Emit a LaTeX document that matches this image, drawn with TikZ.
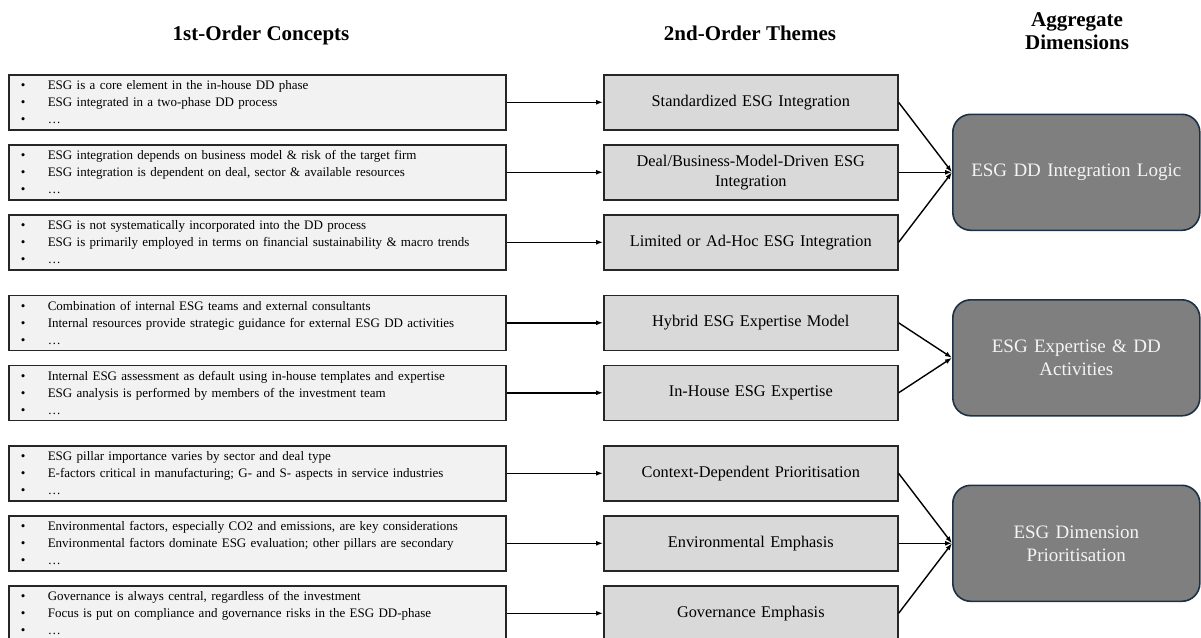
\documentclass[tikz,border=0pt]{standalone}
\usepackage{fontspec}
\setmainfont{Liberation Serif}
\usetikzlibrary{arrows.meta}

\definecolor{conceptfill}{HTML}{F2F2F2}
\definecolor{themefill}{HTML}{D9D9D9}
\definecolor{dimfill}{HTML}{7F7F7F}
\definecolor{dimedge}{HTML}{1C3144}
\definecolor{boxedge}{HTML}{262626}
\definecolor{dimtext}{HTML}{F4F4F4}

% one bullet line inside a concept box
\newcommand{\bitem}[1]{\makebox[27pt][l]{\textbullet}#1}

\begin{document}
\begin{tikzpicture}[x=1pt,y=-1pt,
  header/.style={font=\bfseries\fontsize{21}{23}\selectfont, align=center, inner sep=0},
  concept/.style={draw=boxedge, line width=1.6pt, fill=conceptfill, anchor=north west,
    minimum width=497pt, minimum height=55pt, text width=473pt, inner xsep=12pt, inner ysep=0pt,
    align=left, font=\fontsize{13}{17}\selectfont},
  theme/.style={draw=boxedge, line width=1.6pt, fill=themefill, anchor=north west,
    minimum width=294pt, minimum height=55pt, text width=280pt, inner xsep=7pt, inner ysep=0pt,
    align=center, font=\fontsize{16.3}{20}\selectfont},
  dimension/.style={draw=dimedge, line width=1.6pt, fill=dimfill, rounded corners=18pt,
    anchor=north west, minimum width=247pt, minimum height=116pt, text width=235pt,
    inner xsep=6pt, align=center, text=dimtext, font=\fontsize{19}{23}\selectfont},
  feed/.style={-{Latex[length=7pt,width=5pt]}, line width=1.4pt, draw=black},
  merge/.style={-{Latex[length=7pt,width=5pt]}, line width=1.4pt, draw=black}]

\useasboundingbox (0,0) rectangle (1201,637);

% column headings
\node[header, anchor=base] (h1) at (261,40) {1st-Order Concepts};
\node[header, anchor=base] (h2) at (750,40) {2nd-Order Themes};
\node[header, anchor=base] (h3) at (1077,49) {Aggregate\\Dimensions};

% 1st-order concepts
\node[concept] (c1) at (8,74)    {\bitem{ESG is a core element in the in-house DD phase}\\\bitem{ESG integrated in a two-phase DD process}\\\bitem{\dots}};
\node[concept] (c2) at (8,144)   {\bitem{ESG integration depends on business model \& risk of the target firm}\\\bitem{ESG integration is dependent on deal, sector \& available resources}\\\bitem{\dots}};
\node[concept] (c3) at (8,214)   {\bitem{ESG is not systematically incorporated into the DD process}\\\bitem{ESG is primarily employed in terms on financial sustainability \& macro trends}\\\bitem{\dots}};
\node[concept] (c4) at (8,294.5) {\bitem{Combination of internal ESG teams and external consultants}\\\bitem{Internal resources provide strategic guidance for external ESG DD activities}\\\bitem{\dots}};
\node[concept] (c5) at (8,364.5) {\bitem{Internal ESG assessment as default using in-house templates and expertise}\\\bitem{ESG analysis is performed by members of the investment team}\\\bitem{\dots}};
\node[concept] (c6) at (8,445)   {\bitem{ESG pillar importance varies by sector and deal type}\\\bitem{E-factors critical in manufacturing; G- and S- aspects in service industries}\\\bitem{\dots}};
\node[concept] (c7) at (8,515)   {\bitem{Environmental factors, especially CO2 and emissions, are key considerations}\\\bitem{Environmental factors dominate ESG evaluation; other pillars are secondary}\\\bitem{\dots}};
\node[concept] (c8) at (8,585)   {\bitem{Governance is always central, regardless of the investment}\\\bitem{Focus is put on compliance and governance risks in the ESG DD-phase}\\\bitem{\dots}};

% 2nd-order themes
\node[theme] (t1) at (603,74)    {Standardized ESG Integration};
\node[theme] (t2) at (603,144)   {Deal/Business-Model-Driven ESG\\Integration};
\node[theme] (t3) at (603,214)   {Limited or Ad-Hoc ESG Integration};
\node[theme] (t4) at (603,294.5) {Hybrid ESG Expertise Model};
\node[theme] (t5) at (603,364.5) {In-House ESG Expertise};
\node[theme] (t6) at (603,445)   {Context-Dependent Prioritisation};
\node[theme] (t7) at (603,515)   {Environmental Emphasis};
\node[theme] (t8) at (603,585)   {Governance Emphasis};

% aggregate dimensions
\node[dimension] (d1) at (952,113.5) {ESG DD Integration Logic};
\node[dimension] (d2) at (952,299)   {ESG Expertise \& DD\\Activities};
\node[dimension] (d3) at (952,484.5) {ESG Dimension\\Prioritisation};

% concepts feed themes
\foreach \i in {1,...,8} {
  \draw[feed] (c\i.east) -- (t\i.west);
}

% themes merge into dimensions
\draw[merge] (t1.east) -- (d1.west);
\draw[merge] (t2.east) -- (d1.west);
\draw[merge] (t3.east) -- (d1.west);
\draw[merge] (t4.east) -- (d2.west);
\draw[merge] (t5.east) -- (d2.west);
\draw[merge] (t6.east) -- (d3.west);
\draw[merge] (t7.east) -- (d3.west);
\draw[merge] (t8.east) -- (d3.west);
\end{tikzpicture}
\end{document}
